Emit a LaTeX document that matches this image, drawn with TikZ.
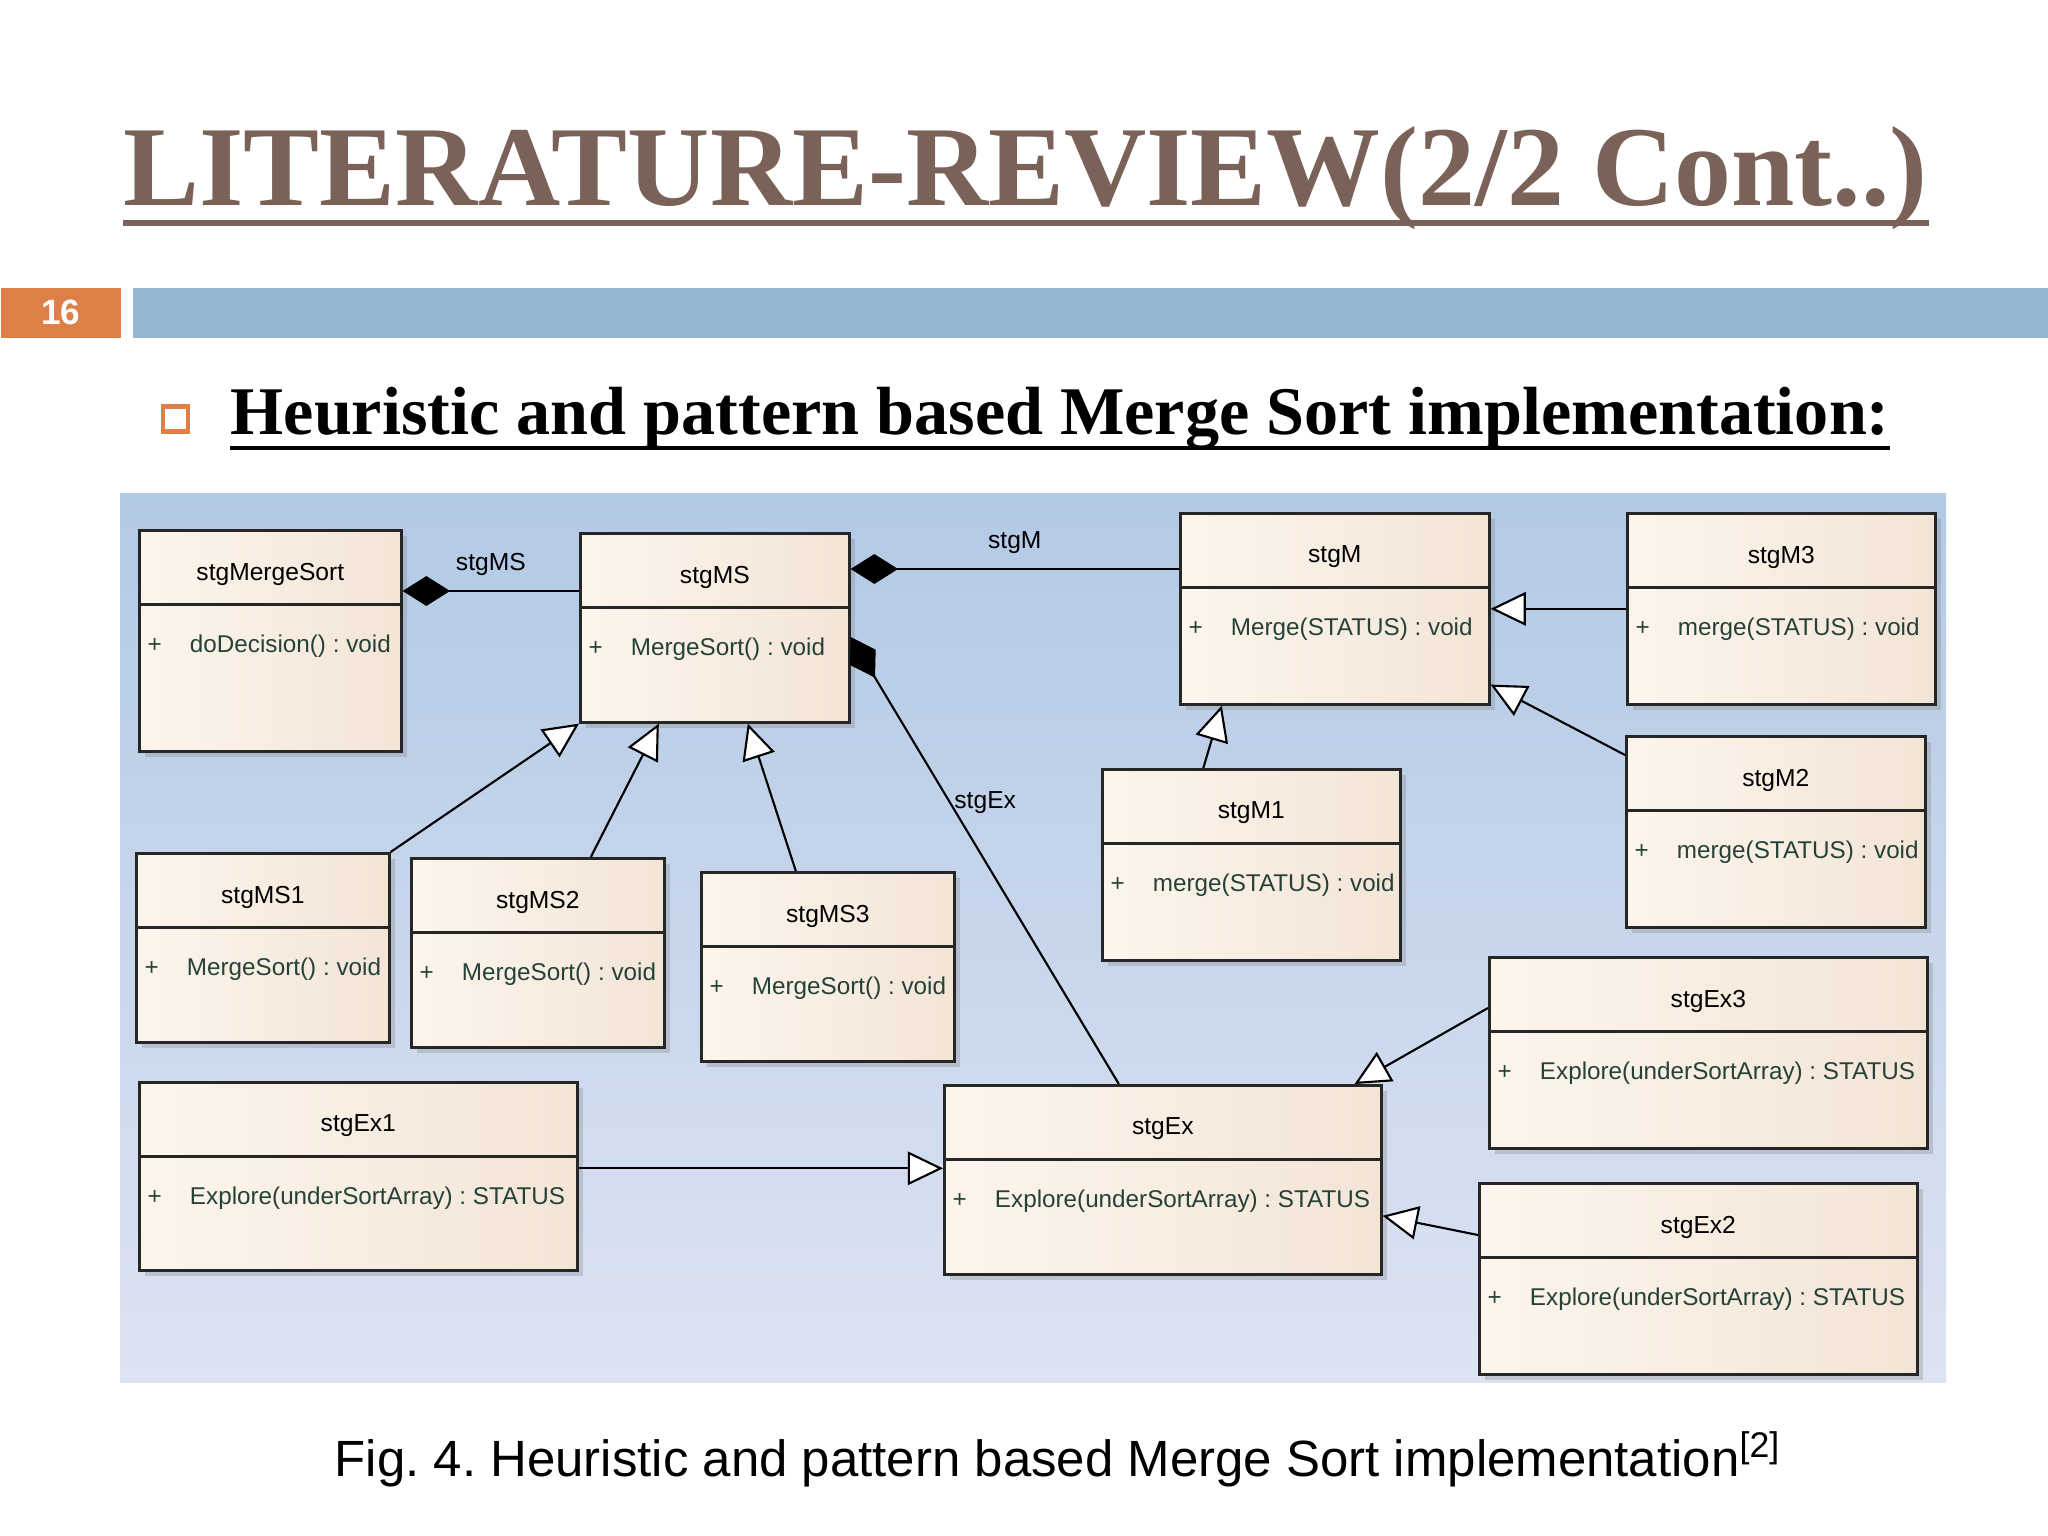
\documentclass[tikz,border=0pt]{standalone}
\usepackage{fontspec}
\setmainfont{Liberation Serif}
\setsansfont{Liberation Sans}
\usepackage{tikz}
\usetikzlibrary{positioning, arrows.meta, calc, shadows}
\definecolor{titlebrown}{RGB}{122,98,88}
\definecolor{slideorange}{RGB}{221,128,71}
\definecolor{slideblue}{RGB}{148,182,210}
\definecolor{paneltop}{RGB}{178,201,229}
\definecolor{panelbot}{RGB}{221,227,242}
\definecolor{boxleft}{RGB}{252,245,236}
\definecolor{boxright}{RGB}{243,229,214}
\definecolor{membergreen}{RGB}{38,66,56}
\frenchspacing

\begin{document}
\begin{tikzpicture}[
  y=-1cm,
  cls/.style={rectangle, draw=black!85, line width=0.75pt, left color=boxleft, right color=boxright,
    anchor=north west, inner sep=0pt,
    drop shadow={shadow xshift=0.06cm, shadow yshift=-0.06cm, opacity=0.3},
    path picture={\draw[black!85, line width=0.75pt]
      ([yshift=-0.74cm]path picture bounding box.north west) -- ([yshift=-0.74cm]path picture bounding box.north east);}},
  cname/.style={font=\sffamily\fontsize{7}{8}\selectfont, inner sep=0pt},
  member/.style={font=\sffamily\fontsize{6.9}{8}\selectfont, text=membergreen, inner sep=0pt, anchor=west},
  rolelbl/.style={font=\sffamily\fontsize{7}{8}\selectfont, inner sep=1pt},
  comp/.style={{Diamond[length=13.5pt, width=8.5pt]}-, line width=0.6pt},
  gen/.style={-{Triangle[length=10pt, width=9.5pt, fill=white]}, line width=0.6pt}
]
\useasboundingbox (0,0) rectangle (20.48,15.36);
\fill[white] (0,0) rectangle (20.48,15.36);

% slide header
\node[anchor=base west, inner sep=0pt, text=titlebrown, font=\bfseries\fontsize{32.4}{36}\selectfont] (title) at (1.23,2.06) {LITERATURE-REVIEW(2/2 Cont..)};
\draw[titlebrown, line width=0.06cm] ([yshift=-0.17cm]title.base west) -- ([yshift=-0.17cm]title.base east);
\node[fill=slideorange, anchor=north west, minimum width=1.20cm, minimum height=0.50cm, inner sep=0pt, text=white, font=\sffamily\bfseries\fontsize{10}{12}\selectfont] (slidenum) at (0,2.87) {16};
\node[fill=slideblue, anchor=north west, minimum width=19.16cm, minimum height=0.50cm, inner sep=0pt] (bar) at (1.32,2.87) {};
\node[draw=slideorange, line width=1.2pt, minimum size=0.25cm, inner sep=0pt] (bullet) at (1.755,4.19) {};
\node[anchor=base west, inner sep=0pt, font=\bfseries\fontsize{19.4}{22}\selectfont] (subtitle) at (2.30,4.35) {Heuristic and pattern based Merge Sort implementation:};
\draw[line width=0.045cm] ([yshift=-0.13cm]subtitle.base west) -- ([yshift=-0.13cm]subtitle.base east);

% diagram panel
\shade[top color=paneltop, bottom color=panelbot] (1.20,4.94) rectangle (19.46,13.82);

% classes
\node[cls, minimum width=2.62cm, minimum height=2.21cm] (mergesort) at (1.38,5.29) {};
\node[cname] (mergesort-n) at ([yshift=-0.45cm]mergesort.north) {stgMergeSort};
\node[member] (mergesort-m) at ([xshift=0.09cm, yshift=-1.17cm]mergesort.north west) {+\hspace{8pt}doDecision() : void};

\node[cls, minimum width=2.69cm, minimum height=1.89cm] (ms) at (5.79,5.32) {};
\node[cname] (ms-n) at ([yshift=-0.45cm]ms.north) {stgMS};
\node[member] (ms-m) at ([xshift=0.09cm, yshift=-1.17cm]ms.north west) {+\hspace{8pt}MergeSort() : void};

\node[cls, minimum width=3.09cm, minimum height=1.91cm] (m) at (11.79,5.12) {};
\node[cname] (m-n) at ([yshift=-0.45cm]m.north) {stgM};
\node[member] (m-m) at ([xshift=0.09cm, yshift=-1.17cm]m.north west) {+\hspace{8pt}Merge(STATUS) : void};

\node[cls, minimum width=3.08cm, minimum height=1.91cm] (m3) at (16.26,5.12) {};
\node[cname] (m3-n) at ([yshift=-0.45cm]m3.north) {stgM3};
\node[member] (m3-m) at ([xshift=0.09cm, yshift=-1.17cm]m3.north west) {+\hspace{8pt}merge(STATUS) : void};

\node[cls, minimum width=2.99cm, minimum height=1.91cm] (m2) at (16.25,7.35) {};
\node[cname] (m2-n) at ([yshift=-0.45cm]m2.north) {stgM2};
\node[member] (m2-m) at ([xshift=0.09cm, yshift=-1.17cm]m2.north west) {+\hspace{8pt}merge(STATUS) : void};

\node[cls, minimum width=2.98cm, minimum height=1.91cm] (m1) at (11.01,7.68) {};
\node[cname] (m1-n) at ([yshift=-0.45cm]m1.north) {stgM1};
\node[member] (m1-m) at ([xshift=0.09cm, yshift=-1.17cm]m1.north west) {+\hspace{8pt}merge(STATUS) : void};

\node[cls, minimum width=2.53cm, minimum height=1.89cm] (ms1) at (1.35,8.52) {};
\node[cname] (ms1-n) at ([yshift=-0.45cm]ms1.north) {stgMS1};
\node[member] (ms1-m) at ([xshift=0.09cm, yshift=-1.17cm]ms1.north west) {+\hspace{8pt}MergeSort() : void};

\node[cls, minimum width=2.53cm, minimum height=1.89cm] (ms2) at (4.10,8.57) {};
\node[cname] (ms2-n) at ([yshift=-0.45cm]ms2.north) {stgMS2};
\node[member] (ms2-m) at ([xshift=0.09cm, yshift=-1.17cm]ms2.north west) {+\hspace{8pt}MergeSort() : void};

\node[cls, minimum width=2.53cm, minimum height=1.89cm] (ms3) at (7.00,8.71) {};
\node[cname] (ms3-n) at ([yshift=-0.45cm]ms3.north) {stgMS3};
\node[member] (ms3-m) at ([xshift=0.09cm, yshift=-1.17cm]ms3.north west) {+\hspace{8pt}MergeSort() : void};

\node[cls, minimum width=4.38cm, minimum height=1.88cm] (ex1) at (1.38,10.81) {};
\node[cname] (ex1-n) at ([yshift=-0.45cm]ex1.north) {stgEx1};
\node[member] (ex1-m) at ([xshift=0.09cm, yshift=-1.17cm]ex1.north west) {+\hspace{8pt}Explore(underSortArray) : STATUS};

\node[cls, minimum width=4.37cm, minimum height=1.89cm] (ex) at (9.43,10.84) {};
\node[cname] (ex-n) at ([yshift=-0.45cm]ex.north) {stgEx};
\node[member] (ex-m) at ([xshift=0.09cm, yshift=-1.17cm]ex.north west) {+\hspace{8pt}Explore(underSortArray) : STATUS};

\node[cls, minimum width=4.38cm, minimum height=1.91cm] (ex3) at (14.88,9.56) {};
\node[cname] (ex3-n) at ([yshift=-0.45cm]ex3.north) {stgEx3};
\node[member] (ex3-m) at ([xshift=0.09cm, yshift=-1.17cm]ex3.north west) {+\hspace{8pt}Explore(underSortArray) : STATUS};

\node[cls, minimum width=4.38cm, minimum height=1.91cm] (ex2) at (14.78,11.82) {};
\node[cname] (ex2-n) at ([yshift=-0.45cm]ex2.north) {stgEx2};
\node[member] (ex2-m) at ([xshift=0.09cm, yshift=-1.17cm]ex2.north west) {+\hspace{8pt}Explore(underSortArray) : STATUS};

% compositions
\draw[comp] ([yshift=-0.62cm]mergesort.north east) -- node[rolelbl, above=3pt] (lbl-ms) {stgMS} ([yshift=-0.62cm]mergesort.north east -| ms.west);
\draw[comp] ([yshift=-0.37cm]ms.north east) -- node[rolelbl, above=3pt] (lbl-m) {stgM} ([yshift=-0.37cm]ms.north east -| m.west);
\draw[comp] ([yshift=-1.05cm]ms.north east) -- node[rolelbl, pos=0.37, right] (lbl-ex) {stgEx} ([xshift=-0.44cm]ex.north);

% generalizations
\draw[gen] (ms1.north east) -- (ms.south west);
\draw[gen] ([xshift=0.53cm]ms2.north) -- ([xshift=-0.56cm]ms.south);
\draw[gen] ([xshift=-0.32cm]ms3.north) -- ([xshift=0.33cm]ms.south);
\draw[gen] ([xshift=-0.48cm]m1.north) -- ([xshift=-1.13cm]m.south);
\draw[gen] (m3.west) -- (m.east);
\draw[gen] ([yshift=-0.20cm]m2.north west) -- ([yshift=0.21cm]m.south east);
\draw[gen] ([yshift=0.08cm]ex1.east) -- ([yshift=0.08cm]ex1.east -| ex.west);
\draw[gen] ([yshift=-0.52cm]ex3.north west) -- ([xshift=-0.28cm]ex.north east);
\draw[gen] ([yshift=-0.53cm]ex2.north west) -- ([yshift=-0.36cm]ex.east);

% caption
\node[anchor=base west, inner sep=0pt, font=\sffamily\fontsize{14.5}{17}\selectfont] (caption) at (3.34,14.76) {Fig. 4. Heuristic and pattern based Merge Sort implementation\textsuperscript{[2]}};
\end{tikzpicture}
\end{document}
